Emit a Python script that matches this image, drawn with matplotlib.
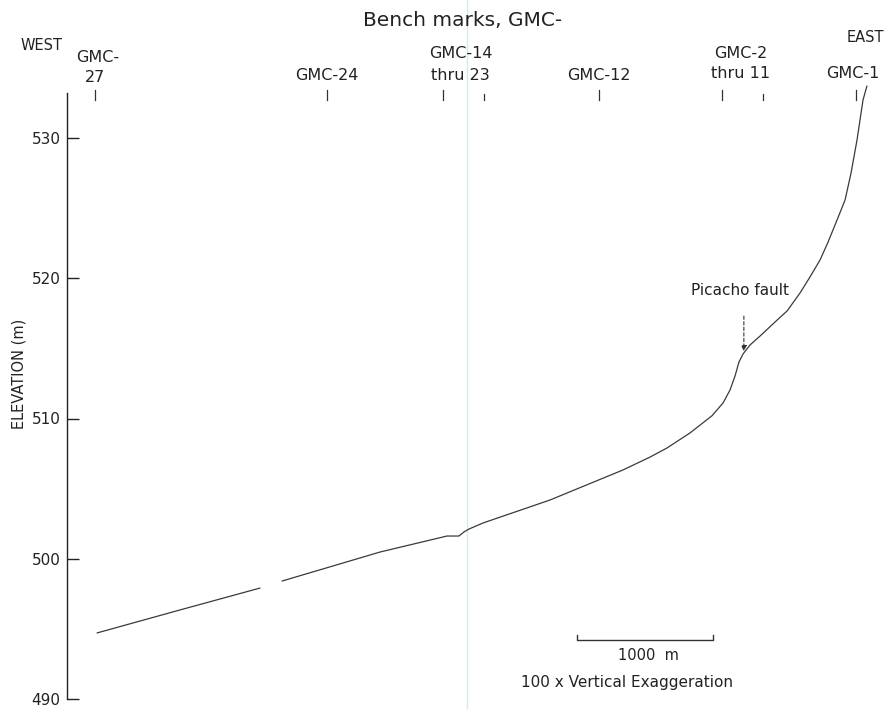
import numpy as np
import matplotlib
matplotlib.use("Agg")
import matplotlib.pyplot as plt
import matplotlib.transforms as mtransforms

plt.rcParams['font.family'] = ['DejaVu Sans']

# Topographic profile along the bench-mark line (distance from west end, elevation)
distance_m = [221, 831, 1419, None, 1581, 2302, 2794, 2882, 2919, 2956, 3059,
              3552, 4088, 4287, 4412, 4581, 4743, 4824, 4875, 4912, 4941,
              4971, 5022, 5096, 5206, 5294, 5390, 5463, 5537, 5596, 5662, 5721,
              5765, 5809, 5853, 5882]
elevation_m = [494.71, 496.35, 497.91, None, 498.41, 500.48, 501.62, 501.62,
               501.91, 502.12, 502.55, 504.19, 506.33, 507.25, 507.90, 508.97,
               510.20, 511.11, 512.03, 513.03, 514.03, 514.60, 515.24,
               515.88, 516.88, 517.66, 518.95, 520.09, 521.30, 522.58, 524.15,
               525.58, 527.50, 529.86, 532.71, 533.71]

# Bench mark positions along the profile
bm_major = [206, 1912, 2765, 3912, 4816, 5801]
bm_minor = [3066, 5118]
# (text, x position in m, vertical position in px from top)
bm_text = [("GMC-", 228, 58), ("27", 206, 77),
           ("GMC-24", 1912, 76),
           ("GMC-14", 2897, 53), ("thru 23", 2890, 76),
           ("GMC-12", 3912, 76),
           ("GMC-2", 4956, 53), ("thru 11", 4949, 73),
           ("GMC-1", 5779, 73)]

fault_x = 4977
fault_label = "Picacho fault"
y_ticks = [490, 500, 510, 520, 530]

W, H = 886, 709
fig = plt.figure(figsize=(W / 100, H / 100), dpi=100)
ax = fig.add_axes([0, 0, 1, 1])
px_per_m_x = 136 / 1000.0
px_per_m_y = 14.025
ax.set_xlim(-67 / px_per_m_x, (W - 67) / px_per_m_x)
ax.set_ylim(490 - 10 / px_per_m_y, 490 + 699 / px_per_m_y)
ax.patch.set_alpha(0)

TXT = '#222222'

x = np.array([np.nan if v is None else v for v in distance_m], float)
y = np.array([np.nan if v is None else v for v in elevation_m], float)
ax.plot(x, y, color='#3a3a3a', lw=0.9, solid_capstyle='round', solid_joinstyle='round')

# Elevation axis
for s in ['top', 'right', 'bottom']:
    ax.spines[s].set_visible(False)
ax.spines['left'].set_position(('data', 0))
ax.spines['left'].set_bounds(490, 533.2)
ax.spines['left'].set_linewidth(1.0)
ax.spines['left'].set_color('#222222')
ax.set_xticks([])
ax.set_yticks(y_ticks)
ax.tick_params(axis='y', direction='in', length=8.5, width=1.0, pad=4.5,
               labelsize=11, colors=TXT)
ax.text(-353, 490 + (699 - 374) / px_per_m_y, "ELEVATION (m)", rotation=90,
        ha='center', va='center', fontsize=10.5, color=TXT)

# Header with bench marks (x in data, y in axes fraction)
tr = mtransforms.blended_transform_factory(ax.transData, ax.transAxes)
def fy(py):
    return 1 - py / H

for xb in bm_major:
    ax.plot([xb, xb], [fy(90), fy(100)], transform=tr, color='#333333', lw=0.9, clip_on=False)
for xb in bm_minor:
    ax.plot([xb, xb], [fy(94), fy(100)], transform=tr, color='#333333', lw=0.9, clip_on=False)

ax.text(2912, fy(20), "Bench marks, GMC-", transform=tr, ha='center', va='center',
        fontsize=14.5, color=TXT)
ax.text(-191, fy(45), "WEST", transform=tr, ha='center', va='center', fontsize=10.5, color=TXT)
ax.text(5868, fy(38), "EAST", transform=tr, ha='center', va='center', fontsize=10.5, color=TXT)
for lab, lx, ly in bm_text:
    ax.text(lx, fy(ly), lab, transform=tr, ha='center', va='center', fontsize=11.5,
            color=TXT)

# Fault annotation
ax.text(4949, 490 + (699 - 291) / px_per_m_y, fault_label, ha='center', va='center',
        fontsize=11, color=TXT)
ax.annotate("", xy=(fault_x, 514.6), xytext=(fault_x, 517.5),
            arrowprops=dict(arrowstyle='-|>', linestyle=(0, (3, 2)), lw=0.8,
                            color='#333333', mutation_scale=8))

# Scale bar
sb_x0, sb_len = 510 / px_per_m_x, 1000
sb_y = 490 + (699 - 640) / px_per_m_y
tick_h = 5 / px_per_m_y
ax.plot([sb_x0, sb_x0, sb_x0 + sb_len, sb_x0 + sb_len],
        [sb_y + tick_h, sb_y, sb_y, sb_y + tick_h], color='#333333', lw=1.0)
ax.text(581 / px_per_m_x, 490 + (699 - 655) / px_per_m_y, "1000  m", ha='center',
        va='center', fontsize=10.5, color=TXT)
ax.text(4114, 490 + (699 - 683) / px_per_m_y, "100 x Vertical Exaggeration",
        ha='center', va='center', fontsize=11, color=TXT)

# Faint fold crease across the sheet
ax.axvline(400 / px_per_m_x, color='#cdecf3', lw=1.0, zorder=0)

fig.savefig("out.png", dpi=100, facecolor='white')
